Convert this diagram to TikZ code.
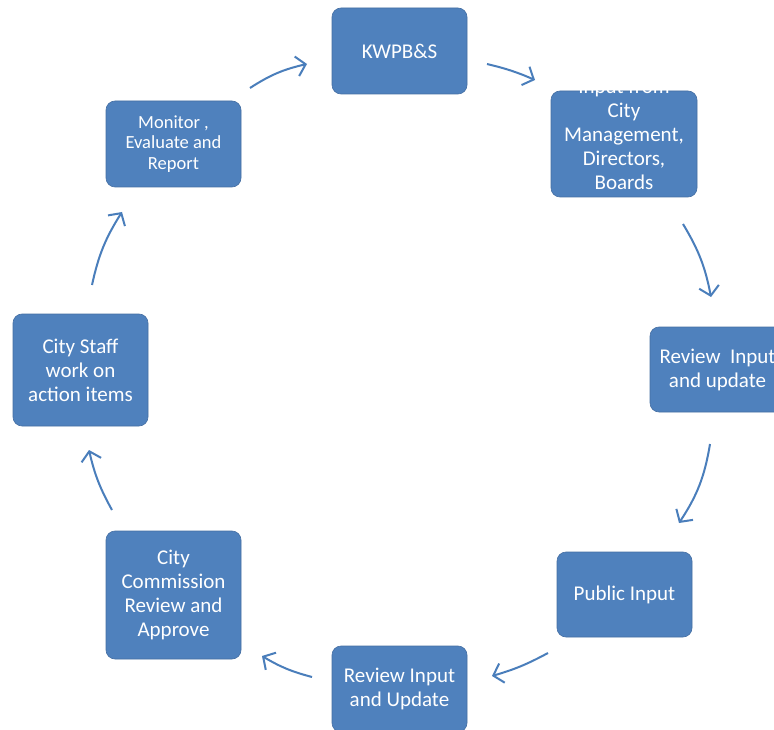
\documentclass[tikz,border=0pt]{standalone}
\usepackage{fontspec}
\setmainfont{Carlito}
\usetikzlibrary{arrows.meta}
\definecolor{boxblue}{HTML}{4F81BD}
\definecolor{boxedge}{HTML}{466FA3}
\definecolor{arrowblue}{HTML}{4A7EBB}
\tikzset{
  stepbox/.style={rectangle, rounded corners=9pt, fill=boxblue, draw=boxedge, line width=0.6pt,
    text=white, align=center, inner sep=0pt, minimum width=135pt,
    font=\fontsize{21}{24}\selectfont},
  flow/.style={draw=arrowblue, line width=2pt, bend left=#1,
    -{Straight Barb[length=9pt,width=20pt,line width=2pt]}},
  flow/.default=12
}
\begin{document}
\begin{tikzpicture}[x=1pt,y=-1pt]
\useasboundingbox (0,0) rectangle (774,730);
\clip (0,0) rectangle (774,730);
\fill[white] (0,0) rectangle (774,730);
% boxes
\node[stepbox, minimum height=86pt] (kw) at (399.5,51) {KWPB\&S};
\node[stepbox, minimum width=146pt, minimum height=106pt] (inp) at (624,144) {};
\node[text=white, align=center, font=\fontsize{21}{24}\selectfont] (inptext) at (624,134)
  {Input from\\City\\Management,\\Directors,\\Boards};
\node[stepbox, minimum height=85pt] (rev1) at (717.5,369.5) {Review\ \ Input\\and update};
\node[stepbox, minimum height=85pt] (pub) at (624.5,594.5) {Public Input};
\node[stepbox, minimum height=86pt] (rev2) at (399.5,689) {Review Input\\and Update};
\node[stepbox, minimum height=128pt] (comm) at (173.5,595) {City\\Commission\\Review and\\Approve};
\node[stepbox, minimum height=112pt] (staff) at (80.5,370) {City Staff\\work on\\action items};
\node[stepbox, minimum height=86pt, font=\fontsize{18.5}{20.5}\selectfont] (mon) at (173.5,144)
  {Monitor ,\\Evaluate and\\Report};
% arrow end points
\coordinate (a1) at (250,88);  \coordinate (a2) at (307,64);
\coordinate (b1) at (487,64);  \coordinate (b2) at (535,80);
\coordinate (c1) at (683,224); \coordinate (c2) at (711,297);
\coordinate (d1) at (710,444); \coordinate (d2) at (679,523);
\coordinate (e1) at (548,653); \coordinate (e2) at (492,676);
\coordinate (f1) at (312,677); \coordinate (f2) at (262,656);
\coordinate (g1) at (112,510); \coordinate (g2) at (89,450);
\coordinate (h1) at (92,285);  \coordinate (h2) at (122,212);
% arrows
\draw[flow=10] (a1) to (a2);
\draw[flow=5] (b1) to (b2);
\draw[flow=10] (c1) to (c2);
\draw[flow=12] (d1) to (d2);
\draw[flow=6] (e1) to (e2);
\draw[flow=8] (f1) to (f2);
\draw[flow=8] (g1) to (g2);
\draw[flow=10] (h1) to (h2);
\end{tikzpicture}
\end{document}
